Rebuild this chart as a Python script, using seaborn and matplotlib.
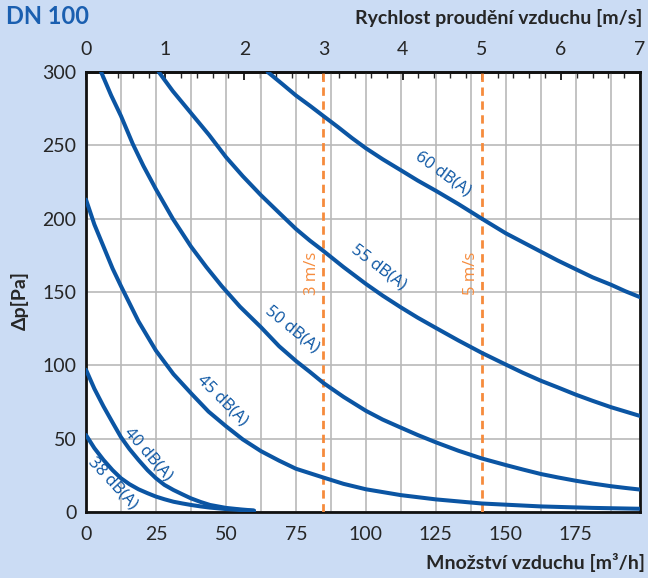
import numpy as np
import pandas as pd
import matplotlib
matplotlib.use("Agg")
import matplotlib.pyplot as plt
import seaborn as sns

# Curve data: air flow [m3/h] vs pressure drop [Pa]
flow_60 = [64.9, 70, 75, 80, 84.8, 90, 95, 100, 106, 112.5, 118.5, 125, 133, 141.4,
           145.7, 150, 156, 162.5, 168.5, 175, 181, 187.5, 192.7, 197.9]
dp_60 = [300, 292, 284, 277, 270, 262.5, 255, 248, 240.5, 233, 226, 219, 210, 200,
         195, 190, 184, 177.5, 171.5, 165.5, 160, 155, 150.5, 146.5]

flow_55 = [26, 31, 37.5, 44, 50, 56, 62.5, 69, 75, 80, 84.8, 92, 100, 106, 112.5,
           118.5, 125, 133, 141.4, 150, 156, 162.5, 168.5, 175, 181, 187.5, 192.7, 197.9]
dp_55 = [300, 287, 272, 257, 242, 229, 216, 204, 193, 185, 178, 167, 155.5, 147.5, 139.5,
         132.5, 125.5, 117, 108.5, 100.5, 95, 89.5, 85, 80, 75.8, 71.5, 68.5, 65.5]

flow_50 = [5.4, 9, 12.5, 16.7, 20.5, 25, 31, 37.5, 43, 48.5, 55, 62.5, 69, 75, 80, 84.8,
           92, 100, 106, 112.5, 118.5, 125, 133, 141.4, 150, 156, 162.5, 168.5, 175, 181,
           187.5, 192.7, 197.9]
dp_50 = [300, 284, 270, 251, 236, 220, 200, 181, 167, 154, 140, 126, 113, 103, 95.5, 88,
         78.5, 69, 63, 57.5, 52.5, 47.5, 41.8, 36.5, 32, 29, 25.9, 23.6, 21.3, 19.4,
         17.6, 16.4, 15.3]

flow_45 = [0, 3, 6.25, 9.5, 12.5, 18.75, 25, 31.25, 37.5, 43.75, 50, 56, 62.5, 69, 75,
           84.8, 92, 100, 112.5, 125, 141.4, 162.5, 181, 197.9]
dp_45 = [213, 196, 181, 166, 154, 130, 110, 94, 81, 68.5, 58.5, 49.5, 41.5, 35, 29.5,
         23.5, 19.2, 15.5, 11.5, 8.6, 5.8, 3.8, 2.8, 2.2]

flow_40 = [0, 3, 6.25, 9.5, 12.5, 15.5, 18.75, 22, 25, 28, 31.25, 34.5, 37.5, 41, 44.3,
           50, 55, 60]
dp_40 = [97, 84, 72, 61, 51, 43, 35.5, 28.5, 23, 18.5, 15, 12, 9.3, 6.8, 4.8,
         2.8, 1.8, 1.0]

flow_38 = [0, 3, 6.25, 9.5, 12.5, 15.5, 18.75, 22, 25, 28, 31.25, 34.5, 37.5, 41, 44.3,
           50, 55, 60]
dp_38 = [52.5, 43.5, 35.5, 28.5, 23, 19, 15.5, 12.8, 10.5, 8.7, 7, 5.8, 4.8, 3.8, 3.0,
         2.0, 1.4, 0.8]

curve_names = ["60 dB(A)", "55 dB(A)", "50 dB(A)", "45 dB(A)", "40 dB(A)", "38 dB(A)"]
velocity_marks = [3, 5]          # m/s reference lines
x_ticks = [0, 25, 50, 75, 100, 125, 150, 175]
y_ticks = [0, 50, 100, 150, 200, 250, 300]
top_ticks = [0, 1, 2, 3, 4, 5, 6, 7]

# DN 100 duct: flow per 1 m/s
area_flow = np.pi * 0.05 ** 2 * 3600

blue = "#0b55a3"
orange = "#f68b3c"
bg = "#cbdcf4"

frames = []
for name, q, p in zip(curve_names,
                      [flow_60, flow_55, flow_50, flow_45, flow_40, flow_38],
                      [dp_60, dp_55, dp_50, dp_45, dp_40, dp_38]):
    frames.append(pd.DataFrame({"flow": q, "dp": p, "curve": name}))
data = pd.concat(frames, ignore_index=True)

sns.set_style("white")
plt.rcParams["font.family"] = ["Lato", "DejaVu Sans"]

fig = plt.figure(figsize=(6.48, 5.78), dpi=100, facecolor=bg)
ax = fig.add_axes([86 / 648, 1 - 512 / 578, (640 - 86) / 648, (512 - 72) / 578])
ax.set_facecolor("white")

sns.lineplot(data=data, x="flow", y="dp", hue="curve", palette=[blue] * 6,
             estimator=None, sort=False, legend=False, lw=2.9, ax=ax, zorder=4)
for ln in ax.get_lines():
    ln.set_solid_joinstyle("round")

ax.set_xlim(0, 7 * area_flow)
ax.set_ylim(0, 300)
ax.set_xticks(x_ticks)
ax.set_xticks(np.arange(12.5, 200, 25), minor=True)
ax.set_yticks(y_ticks)
ax.grid(which="both", axis="x", color="#b9b9b9", lw=1.2)
ax.grid(which="major", axis="y", color="#b9b9b9", lw=1.2)
ax.set_axisbelow(True)
ax.tick_params(axis="x", which="both", direction="in", length=5, width=1.2,
               color="black", labelsize=14, pad=10)
ax.tick_params(axis="y", length=0, labelsize=14, pad=7)
ax.set_xlabel("")
ax.set_ylabel("")
for s in ax.spines.values():
    s.set_color("#111111")
    s.set_linewidth(2)

# velocity reference lines
for v in velocity_marks:
    ax.axvline(v * area_flow, color=orange, lw=2, ls=(0, (3, 2)), zorder=3)
    ax.text(v * area_flow - 4, 163, f"{v} m/s", rotation=90, color=orange,
            fontsize=12, family=["Open Sans", "DejaVu Sans"],
            ha="center", va="center")

# curve labels
label_pos = [(127.6, 230.7, -36), (104.4, 167.1, -37), (73.7, 124.6, -39),
             (48.8, 76, -45), (22.1, 39.8, -49), (9.6, 19.9, -47)]
for name, (x, y, rot) in zip(curve_names, label_pos):
    ax.text(x, y, name, rotation=rot, color=blue, fontsize=12,
            family=["Open Sans", "DejaVu Sans"], ha="center", va="center",
            rotation_mode="anchor", zorder=5)

# top velocity axis
sec = ax.secondary_xaxis("top", functions=(lambda q: q / area_flow,
                                           lambda v: v * area_flow))
sec.set_xticks(top_ticks)
sec.set_xticks(np.arange(0, 7.01, 0.2), minor=True)
sec.tick_params(which="major", direction="in", length=6, width=1.4, labelsize=14, pad=10)
sec.tick_params(which="minor", direction="in", length=4, width=1)
sec.spines["top"].set_linewidth(2)

fig.text(6 / 648, 1 - 17 / 578, "DN 100", color="#1a5fb0", fontsize=17,
         fontweight="bold", ha="left", va="center")
fig.text(642 / 648, 1 - 18 / 578, "Rychlost proudění vzduchu [m/s]", fontsize=14,
         fontweight="bold", ha="right", va="center")
fig.text(645 / 648, 1 - 562 / 578, "Množství vzduchu [m³/h]", fontsize=14,
         fontweight="bold", ha="right", va="center")
fig.text(20 / 648, 1 - 300 / 578, "Δp[Pa]", fontsize=14, fontweight="bold",
         rotation=90, ha="center", va="center")

fig.savefig("out.png", dpi=100, facecolor=bg)
